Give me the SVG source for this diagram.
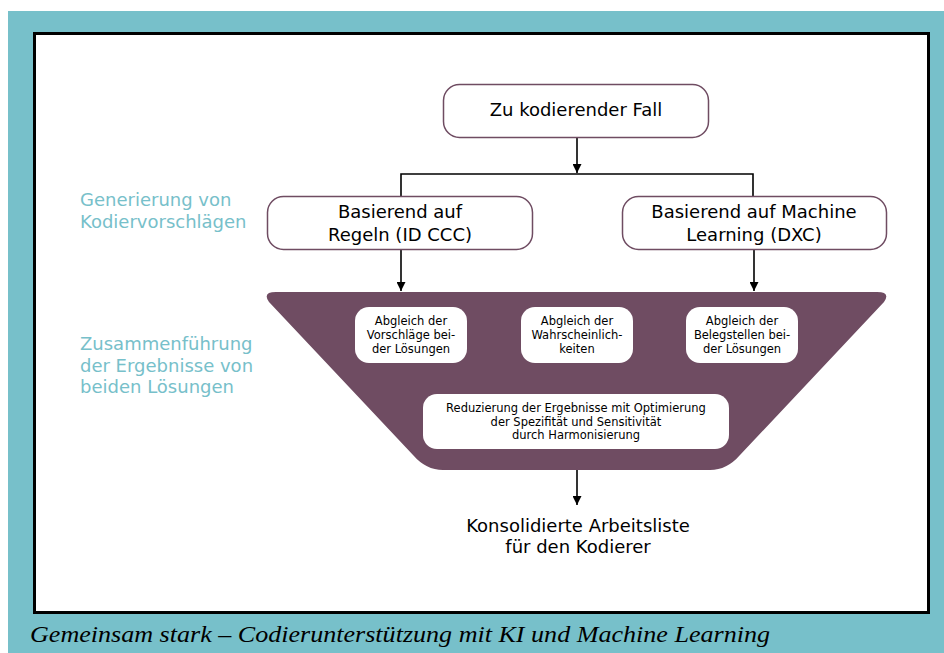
<svg xmlns="http://www.w3.org/2000/svg" width="944" height="653" viewBox="0 0 944 653">
<defs>
<marker id="arr" viewBox="0 0 10 10" refX="10" refY="5" markerWidth="9" markerHeight="9" markerUnits="userSpaceOnUse" orient="auto">
<path d="M0,0 L10,5 L0,10 Z" fill="#000"/>
</marker>
<style>
.t{font-family:"DejaVu Sans",Verdana,sans-serif;fill:#000;text-anchor:middle}
.big{font-size:18px}
.sm{font-size:11.5px}
.lab{font-family:"DejaVu Sans",Verdana,sans-serif;font-size:18px;fill:#77c0ca}
.box{fill:#fff;stroke:#6f4c62;stroke-width:1.5}
.wbox{fill:#fff}
.ln{fill:none;stroke:#000;stroke-width:1.6}
</style>
</defs>
<rect x="0" y="0" width="944" height="653" fill="#fff"/>
<rect x="8" y="11" width="936" height="642" fill="#77c0ca"/>
<rect x="34.5" y="33.5" width="894" height="579" fill="#fff" stroke="#000" stroke-width="3"/>

<g id="labels">
<text class="lab" x="80" y="206">Generierung von</text>
<text class="lab" x="80" y="228">Kodiervorschlägen</text>
<text class="lab" x="80" y="350">Zusammenführung</text>
<text class="lab" x="80" y="372">der Ergebnisse von</text>
<text class="lab" x="80" y="393">beiden Lösungen</text>
</g>

<g id="connectors">
<line class="ln" x1="577" y1="138" x2="577" y2="173" marker-end="url(#arr)"/>
<polyline class="ln" points="401,196 401,174 753,174 753,196"/>
<line class="ln" x1="401" y1="250" x2="401" y2="291" marker-end="url(#arr)"/>
<line class="ln" x1="754" y1="250" x2="754" y2="291" marker-end="url(#arr)"/>
<line class="ln" x1="577" y1="470" x2="577" y2="505" marker-end="url(#arr)"/>
</g>

<g id="n-fall">
<rect class="box" x="443.5" y="84.5" width="265" height="53" rx="16"/>
<text class="t big" x="576" y="116">Zu kodierender Fall</text>
</g>

<g id="n-regeln">
<rect class="box" x="267.5" y="196.5" width="265" height="53" rx="16"/>
<text class="t big" x="400" y="218">Basierend auf</text>
<text class="t big" x="400" y="241">Regeln (ID CCC)</text>
</g>

<g id="n-ml">
<rect class="box" x="622.5" y="196.5" width="264" height="53" rx="16"/>
<text class="t big" x="754" y="218">Basierend auf Machine</text>
<text class="t big" x="754" y="241">Learning (DXC)</text>
</g>

<g id="n-merge">
<path d="M276,292 H877 Q891,292 884,302 L740,455 Q727,470 710,470 H443 Q426,470 413,455 L269,302 Q262,292 276,292 Z" fill="#6f4c62"/>
</g>

<g id="n-vorschlaege">
<rect class="wbox" x="355" y="307" width="112" height="56" rx="14"/>
<text class="t sm" x="411" y="325">Abgleich der</text>
<text class="t sm" x="411" y="339">Vorschläge bei-</text>
<text class="t sm" x="411" y="352.5">der Lösungen</text>
</g>

<g id="n-wahrsch">
<rect class="wbox" x="521" y="307" width="112" height="56" rx="14"/>
<text class="t sm" x="577" y="325">Abgleich der</text>
<text class="t sm" x="577" y="339">Wahrscheinlich-</text>
<text class="t sm" x="577" y="352.5">keiten</text>
</g>

<g id="n-beleg">
<rect class="wbox" x="686" y="307" width="112" height="56" rx="14"/>
<text class="t sm" x="742" y="325">Abgleich der</text>
<text class="t sm" x="742" y="339">Belegstellen bei-</text>
<text class="t sm" x="742" y="352.5">der Lösungen</text>
</g>

<g id="n-reduz">
<rect class="wbox" x="423" y="394" width="306" height="55" rx="14"/>
<text class="t sm" x="576" y="412">Reduzierung der Ergebnisse mit Optimierung</text>
<text class="t sm" x="576" y="425.5">der Spezifität und Sensitivität</text>
<text class="t sm" x="576" y="439">durch Harmonisierung</text>
</g>

<g id="n-liste">
<text class="t big" x="578" y="532">Konsolidierte Arbeitsliste</text>
<text class="t big" x="578" y="553">für den Kodierer</text>
</g>

<text x="30" y="642" font-family="Liberation Serif, serif" font-style="italic" font-size="24" fill="#000" textLength="740" lengthAdjust="spacingAndGlyphs">Gemeinsam stark – Codierunterstützung mit KI und Machine Learning</text>
</svg>
